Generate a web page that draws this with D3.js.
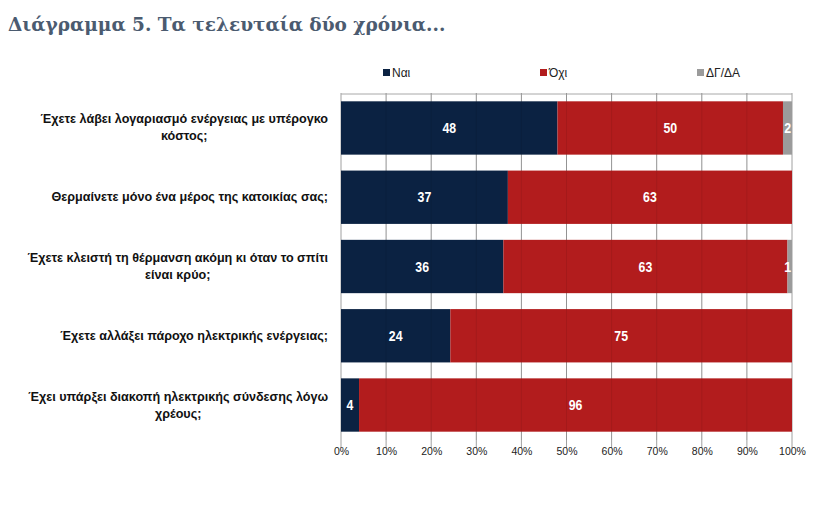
<!DOCTYPE html>
<html>
<head>
<meta charset="utf-8">
<script src="https://cdn.jsdelivr.net/npm/d3@7"></script>
<style>
  body { margin: 0; background: #fff; }
  svg { display: block; }
</style>
</head>
<body>
<div id="chart"></div>
<script>
const title = "Διάγραμμα 5. Τα τελευταία δύο χρόνια..."
const categories = [
  ["Έχετε λάβει λογαριασμό ενέργειας με υπέρογκο", "κόστος;"],
  ["Θερμαίνετε μόνο ένα μέρος της κατοικίας σας;"],
  ["Έχετε κλειστή τη θέρμανση ακόμη κι όταν το σπίτι", "είναι κρύο;"],
  ["Έχετε αλλάξει πάροχο ηλεκτρικής ενέργειας;"],
  ["Έχει υπάρξει διακοπή ηλεκτρικής σύνδεσης λόγω", "χρέους;"]
]
const seriesNames = ["Ναι", "Όχι", "ΔΓ/ΔΑ"]
const yes = [48, 37, 36, 24, 4]
const no = [50, 63, 63, 75, 96]
const dk = [2, 0, 1, 0, 0]
const tickValues = [0, 0.1, 0.2, 0.3, 0.4, 0.5, 0.6, 0.7, 0.8, 0.9, 1]
const colors = ["#0b2242", "#b21c1d", "#9b9b9b"]

const width = 821, height = 508
const margin = {top: 93, left: 341, right: 29, bottom: 68}

const rows = categories.map((c, i) => ({i: i, "Ναι": yes[i], "Όχι": no[i], "ΔΓ/ΔΑ": dk[i]}))
const stack = d3.stack().keys(seriesNames).offset(d3.stackOffsetExpand)(rows)

const svg = d3.select("#chart").append("svg")
  .attr("width", width).attr("height", height)
  .attr("viewBox", "0,0," + width + "," + height)

svg.append("text")
  .attr("x", 8).attr("y", 31)
  .attr("font-family", "DejaVu Serif, serif")
  .attr("font-weight", "bold")
  .attr("font-size", 18.5)
  .attr("fill", "#4b5b70")
  .text(title)

const x = d3.scaleLinear().domain([0, 1]).range([margin.left, width - margin.right])
const y = d3.scaleBand().domain(d3.range(categories.length))
  .range([margin.top, height - margin.bottom]).paddingInner(0.23).paddingOuter(0.12)

// gridlines + top rule
const grid = svg.append("g")
grid.selectAll("line").data(tickValues).enter().append("line")
  .attr("x1", d => x(d)).attr("x2", d => x(d))
  .attr("y1", margin.top).attr("y2", height - margin.bottom + 8)
  .attr("stroke", "#a0a0a0").attr("stroke-width", 1)
svg.append("line")
  .attr("x1", x(0)).attr("x2", x(1))
  .attr("y1", margin.top + 1).attr("y2", margin.top + 1)
  .attr("stroke", "#a8a8a8")

// bars
svg.append("g").selectAll("g").data(stack).enter().append("g")
    .attr("fill", (d, i) => colors[i])
  .selectAll("rect").data(d => d).enter().append("rect")
    .attr("x", d => x(d[0]))
    .attr("y", d => y(d.data.i))
    .attr("width", d => x(d[1]) - x(d[0]))
    .attr("height", y.bandwidth())

// faint grid over bars
svg.append("g").selectAll("line").data(tickValues.slice(1, -1)).enter().append("line")
  .attr("x1", d => x(d)).attr("x2", d => x(d))
  .attr("y1", margin.top).attr("y2", height - margin.bottom)
  .attr("stroke", "#000").attr("stroke-opacity", 0.08)

// value labels
svg.append("g").selectAll("g").data(stack).enter().append("g")
  .selectAll("text").data(d => d.map(v => ({v: v, key: d.key}))).enter()
  .filter(d => d.v.data[d.key] > 0)
  .append("text")
    .attr("transform", d => {
      const cx = d.key === "ΔΓ/ΔΑ" ? x(d.v[1]) - 1 : (x(d.v[0]) + x(d.v[1])) / 2
      return `translate(${cx},${y(d.v.data.i) + y.bandwidth() / 2 + 5}) scale(0.85,1)`
    })
    .attr("text-anchor", d => d.key === "ΔΓ/ΔΑ" ? "end" : "middle")
    .attr("font-family", "Liberation Sans, Arial, sans-serif")
    .attr("font-weight", "bold")
    .attr("font-size", 14.5)
    .attr("fill", "#fff")
    .text(d => d.v.data[d.key])

// category labels
const labelRight = 328
categories.forEach((lines, i) => {
  const t = svg.append("text")
    .attr("font-family", "Liberation Sans, Arial, sans-serif")
    .attr("font-weight", "bold")
    .attr("font-size", 12.6)
    .attr("fill", "#111")
    .attr("text-anchor", "middle")
  const spans = lines.map(l => t.append("tspan").text(l))
  const w = spans[0].node().getComputedTextLength()
  const cx = labelRight - w / 2
  const lh = 17
  const y0 = y(i) + y.bandwidth() / 2 - (lines.length - 1) * lh / 2 + 4
  spans.forEach((s, k) => s.attr("x", cx).attr("y", y0 + k * lh))
})

// x axis tick labels
svg.append("g")
  .attr("transform", `translate(0,${height - margin.bottom + 2})`)
  .call(d3.axisBottom(x).tickValues(tickValues).tickFormat(d3.format(".0%")).tickSize(0).tickPadding(6))
  .call(g => g.select(".domain").remove())
  .call(g => g.selectAll("text")
    .attr("font-family", "Liberation Sans, Arial, sans-serif")
    .attr("font-size", 10.5).attr("fill", "#222"))

// legend
const legendX = [383, 540, 697]
const legend = svg.append("g").selectAll("g").data(seriesNames).enter().append("g")
  .attr("transform", (d, i) => `translate(${legendX[i]},68)`)
legend.append("rect").attr("width", 7).attr("height", 7).attr("y", 1)
  .attr("fill", (d, i) => colors[i])
legend.append("text").attr("x", 9).attr("y", 9)
  .attr("font-family", "Liberation Sans, Arial, sans-serif")
  .attr("font-size", 12).attr("fill", "#222")
  .text(d => d)
</script>
</body>
</html>
